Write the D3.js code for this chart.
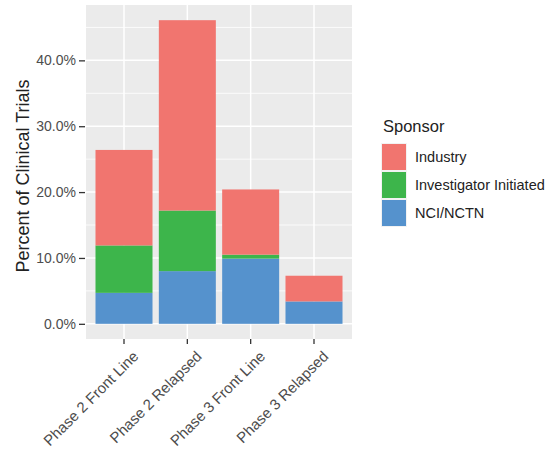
<!DOCTYPE html>
<html>
<head>
<meta charset="utf-8">
<script src="https://cdn.jsdelivr.net/npm/d3@7"></script>
<style>
  body { margin: 0; background: #fff; }
  text { font-family: "Liberation Sans", Arial, sans-serif; }
</style>
</head>
<body>
<svg id="chart" width="558" height="449"></svg>
<script>
// Data (percent of clinical trials)
var categories = ["Phase 2 Front Line", "Phase 2 Relapsed", "Phase 3 Front Line", "Phase 3 Relapsed"];
var sponsors = ["Industry", "Investigator Initiated", "NCI/NCTN"];
var nci = [4.7, 8.0, 9.9, 3.4];
var investigator = [7.2, 9.2, 0.6, 0.0];
var industry = [14.5, 28.9, 9.9, 3.9];
var yTicks = [0, 10, 20, 30, 40];
var colors = ["#F1756F", "#3DB54B", "#5592CD"];

var svg = d3.select("#chart");
var panel = {left: 86, right: 352, top: 5, bottom: 339};

var rows = categories.map(function (c, i) {
    return {cat: c, "NCI/NCTN": nci[i], "Investigator Initiated": investigator[i], "Industry": industry[i]};
});
// stack bottom to top: NCI, Investigator, Industry
var stack = d3.stack().keys(["NCI/NCTN", "Investigator Initiated", "Industry"]);
var series = stack(rows);
var maxTotal = d3.max(rows, d => d["NCI/NCTN"] + d["Investigator Initiated"] + d["Industry"]);

// ggplot-like: 0.6 of a step on each side, bars 0.9 wide
var x = d3.scaleBand().domain(categories)
    .range([panel.left, panel.right]).paddingInner(0.1).paddingOuter(0.15);
var y = d3.scaleLinear().domain([-maxTotal * 0.05, maxTotal * 1.05])
    .range([panel.bottom, panel.top]);

var colorOf = d3.scaleOrdinal().domain(sponsors).range(colors);

// panel background
svg.append("rect").attr("x", panel.left).attr("y", panel.top)
    .attr("width", panel.right - panel.left).attr("height", panel.bottom - panel.top)
    .attr("fill", "#EBEBEB");

// minor grid
var minor = d3.range(5, 50, 10);
svg.selectAll("line.minor").data(minor).enter().append("line")
    .attr("x1", panel.left).attr("x2", panel.right)
    .attr("y1", d => y(d)).attr("y2", d => y(d))
    .attr("stroke", "#fff").attr("stroke-width", 0.8);
// major grid
svg.selectAll("line.hmaj").data(yTicks).enter().append("line")
    .attr("x1", panel.left).attr("x2", panel.right)
    .attr("y1", d => y(d)).attr("y2", d => y(d))
    .attr("stroke", "#fff").attr("stroke-width", 1.5);
svg.selectAll("line.vmaj").data(categories).enter().append("line")
    .attr("x1", d => x(d) + x.bandwidth() / 2).attr("x2", d => x(d) + x.bandwidth() / 2)
    .attr("y1", panel.top).attr("y2", panel.bottom)
    .attr("stroke", "#fff").attr("stroke-width", 1.5);

// bars
series.forEach(function (s) {
    svg.append("g").attr("fill", colorOf(s.key))
        .selectAll("rect").data(s).enter().append("rect")
        .attr("x", d => x(d.data.cat))
        .attr("width", x.bandwidth())
        .attr("y", d => y(d[1]))
        .attr("height", d => y(d[0]) - y(d[1]));
});

// y axis
var yAxis = d3.axisLeft(y).tickValues(yTicks).tickSize(6).tickPadding(3)
    .tickFormat(d => d.toFixed(1) + "%");
var gy = svg.append("g").attr("transform", "translate(" + (panel.left - 1) + ",0)").call(yAxis);
gy.select(".domain").remove();
gy.selectAll("line").attr("stroke", "#333").attr("stroke-width", 1.3);
gy.selectAll("text").attr("fill", "#4D4D4D").style("font-size", "14px");

// x axis
var xAxis = d3.axisBottom(x).tickSize(5).tickPadding(3);
var gx = svg.append("g").attr("transform", "translate(0," + panel.bottom + ")").call(xAxis);
gx.select(".domain").remove();
gx.selectAll("line").attr("stroke", "#333").attr("stroke-width", 1.3);
gx.selectAll("text")
    .attr("fill", "#4D4D4D").style("font-size", "15px")
    .attr("text-anchor", "end")
    .attr("x", -2).attr("y", 13).attr("dy", "0.72em")
    .attr("transform", "rotate(-45)");

// y title
svg.append("text")
    .attr("transform", "translate(23," + ((panel.top + panel.bottom) / 2 + 4) + ") rotate(-90)")
    .attr("text-anchor", "middle")
    .attr("dy", "0.35em")
    .style("font-size", "18px").attr("fill", "#222")
    .text("Percent of Clinical Trials");

// legend
var lg = svg.append("g").attr("transform", "translate(381,0)");
lg.append("text").attr("x", 2).attr("y", 132)
    .style("font-size", "16.5px").attr("fill", "#222").text("Sponsor");
var keyH = 28;
var items = lg.selectAll("g.item").data(sponsors).enter().append("g")
    .attr("transform", (d, i) => "translate(0," + (143 + i * keyH) + ")");
items.append("rect").attr("width", 26).attr("height", keyH)
    .attr("fill", "#F2F2F2");
items.append("rect").attr("x", 1).attr("y", 1).attr("width", 24).attr("height", keyH - 2)
    .attr("fill", d => colorOf(d));
items.append("text").attr("x", 34).attr("y", keyH / 2).attr("dy", "0.35em")
    .style("font-size", "14.5px").attr("fill", "#222").text(d => d);
</script>
</body>
</html>
